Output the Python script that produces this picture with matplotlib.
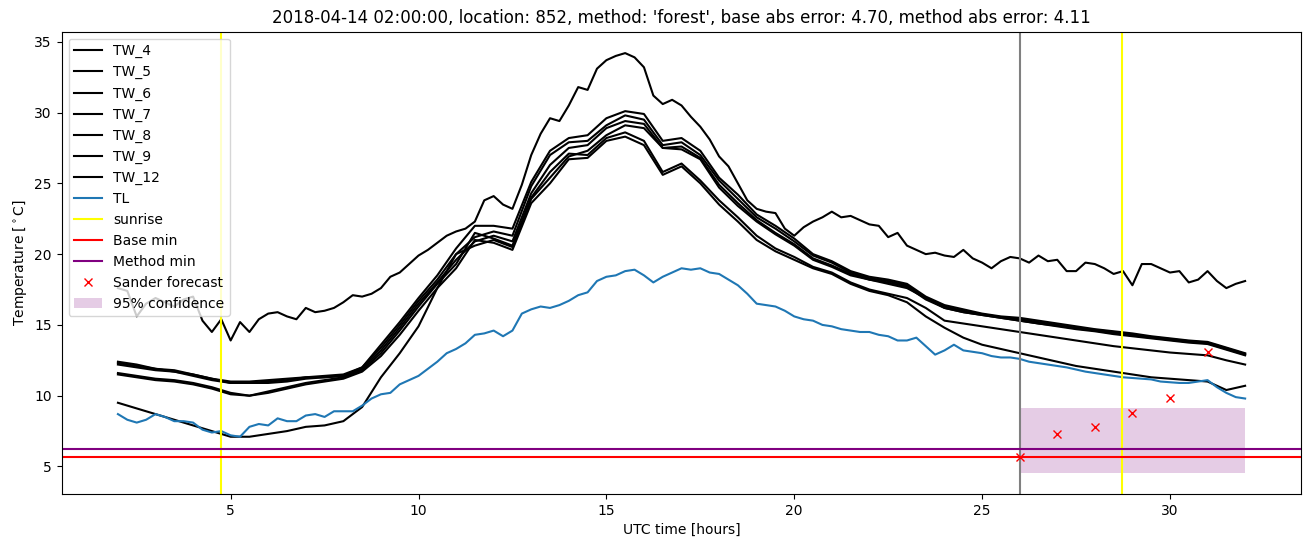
import numpy as np
import matplotlib.pyplot as plt

# Time grids (UTC hours)
hours = np.arange(2.0, 32.01, 0.5)
hours_fine = np.arange(2.0, 32.01, 0.25)

# Water temperatures, every half hour
tw_4 = [12.4, 12.2, 11.9, 11.8, 11.5, 11.2, 11.0, 11.0, 11.1, 11.2, 11.3, 11.4, 11.5, 12.0,
        13.6, 15.2, 16.9, 18.5, 20.4, 22.0, 22.0, 21.8, 25.1, 27.3, 28.2, 28.4, 29.6, 30.1,
        29.9, 28.0, 28.2, 27.3, 25.4, 24.2, 22.8, 22.0, 21.1, 20.0, 19.5, 18.8, 18.4, 18.2,
        17.9, 17.0, 16.4, 16.1, 15.8, 15.6, 15.5, 15.3, 15.1, 14.9, 14.7, 14.55, 14.4, 14.2,
        14.05, 13.9, 13.8, 13.4, 13.0]
tw_5 = [12.3, 12.1, 11.9, 11.7, 11.5, 11.2, 10.9, 10.9, 11.0, 11.1, 11.3, 11.3, 11.4, 12.0,
        13.4, 15.0, 16.7, 18.2, 20.0, 21.2, 21.6, 21.3, 24.8, 27.0, 27.9, 28.0, 29.1, 29.8,
        29.5, 27.7, 27.9, 27.0, 25.2, 23.9, 22.6, 21.8, 20.9, 19.9, 19.4, 18.7, 18.3, 18.1,
        17.8, 16.9, 16.3, 16.0, 15.75, 15.55, 15.4, 15.2, 15.0, 14.8, 14.65, 14.5, 14.3, 14.15,
        14.0, 13.85, 13.75, 13.35, 12.95]
tw_6 = [12.2, 12.0, 11.8, 11.7, 11.4, 11.1, 10.9, 10.9, 10.9, 11.0, 11.2, 11.3, 11.4, 11.9,
        13.2, 14.8, 16.5, 18.0, 19.6, 20.9, 21.3, 20.9, 24.3, 26.3, 27.5, 27.7, 28.9, 29.4,
        29.2, 27.5, 27.6, 26.8, 24.9, 23.6, 22.4, 21.5, 20.7, 19.7, 19.2, 18.6, 18.2, 18.0,
        17.7, 16.8, 16.2, 15.9, 15.7, 15.5, 15.3, 15.1, 14.95, 14.75, 14.6, 14.4, 14.25, 14.1,
        13.95, 13.8, 13.7, 13.3, 12.9]
tw_7 = [11.6, 11.4, 11.2, 11.1, 10.9, 10.6, 10.2, 10.0, 10.3, 10.6, 10.9, 11.1, 11.3, 11.8,
        13.0, 14.6, 16.3, 17.9, 19.3, 21.5, 21.1, 20.6, 24.0, 25.8, 27.1, 27.0, 28.2, 28.6,
        28.0, 25.8, 26.4, 25.2, 23.8, 22.6, 21.3, 20.4, 19.8, 19.1, 18.7, 18.0, 17.5, 17.2,
        16.9, 16.2, 15.3, 15.1, 14.9, 14.7, 14.5, 14.3, 14.1, 13.9, 13.7, 13.5, 13.35, 13.2,
        13.05, 12.95, 12.85, 12.5, 12.2]
tw_8 = [11.5, 11.3, 11.1, 11.0, 10.8, 10.5, 10.1, 10.0, 10.2, 10.5, 10.8, 11.0, 11.2, 11.7,
        12.8, 14.3, 16.0, 17.6, 19.0, 21.0, 20.8, 20.3, 23.6, 25.0, 26.7, 26.8, 28.0, 28.3,
        27.7, 25.6, 26.2, 25.0, 23.5, 22.3, 21.0, 20.2, 19.6, 19.0, 18.6, 17.9, 17.4, 17.1,
        16.6, 15.6, 14.8, 14.1, 13.6, 13.3, 13.0, 12.7, 12.4, 12.1, 11.9, 11.7, 11.5, 11.3,
        11.2, 11.1, 11.0, 10.4, 10.7]
tw_9 = [9.5, 9.1, 8.7, 8.3, 7.9, 7.5, 7.1, 7.1, 7.3, 7.5, 7.8, 7.9, 8.2, 9.2,
        11.3, 13.0, 14.9, 17.6, 20.0, 20.6, 21.0, 20.5, 23.9, 25.4, 26.9, 27.3, 28.4, 29.1,
        28.9, 27.5, 27.4, 26.7, 24.7, 23.4, 22.3, 21.4, 20.6, 19.6, 19.1, 18.5, 18.2, 17.9,
        17.6, 16.9, 16.2, 15.9, 15.7, 15.5, 15.3, 15.1, 14.9, 14.7, 14.55, 14.35, 14.2, 14.05,
        13.9, 13.75, 13.65, 13.25, 12.85]

# Noisier series, read every quarter hour
tw_12 = [17.6, 17.4, 15.6, 16.5, 16.9, 16.6, 16.3, 16.8, 17.0, 15.3, 14.5, 15.4,
         13.9, 15.2, 14.5, 15.4, 15.8, 15.9, 15.6, 15.4, 16.2, 15.9, 16.0, 16.2,
         16.6, 17.1, 17.0, 17.2, 17.6, 18.4, 18.7, 19.3, 19.9, 20.3, 20.8, 21.3,
         21.6, 21.8, 22.3, 23.8, 24.1, 23.5, 23.2, 24.9, 27.0, 28.5, 29.6, 29.4,
         30.5, 31.8, 31.6, 33.1, 33.7, 34.0, 34.2, 33.9, 33.2, 31.2, 30.6, 30.9,
         30.5, 29.7, 29.0, 28.1, 26.9, 26.2, 25.0, 23.8, 23.2, 23.0, 22.9, 21.8,
         21.3, 21.9, 22.3, 22.6, 23.0, 22.6, 22.7, 22.4, 22.1, 22.0, 21.2, 21.5,
         20.6, 20.3, 20.0, 20.1, 19.9, 19.8, 20.3, 19.7, 19.4, 19.0, 19.5, 19.8,
         19.7, 19.4, 19.9, 19.5, 19.6, 18.8, 18.8, 19.4, 19.3, 19.0, 18.6, 18.8,
         17.8, 19.3, 19.3, 19.0, 18.7, 18.8, 18.0, 18.2, 18.8, 18.1, 17.6, 17.9,
         18.1]
tl = [8.7, 8.3, 8.1, 8.3, 8.7, 8.5, 8.2, 8.2, 8.1, 7.6, 7.4, 7.5,
      7.2, 7.1, 7.8, 8.0, 7.9, 8.4, 8.2, 8.2, 8.6, 8.7, 8.5, 8.9,
      8.9, 8.9, 9.3, 9.8, 10.1, 10.2, 10.8, 11.1, 11.4, 11.9, 12.4, 13.0,
      13.3, 13.7, 14.3, 14.4, 14.6, 14.2, 14.6, 15.8, 16.1, 16.3, 16.2, 16.4,
      16.7, 17.1, 17.3, 18.1, 18.4, 18.5, 18.8, 18.9, 18.5, 18.0, 18.4, 18.7,
      19.0, 18.9, 19.0, 18.7, 18.6, 18.2, 17.8, 17.2, 16.5, 16.4, 16.3, 16.0,
      15.6, 15.4, 15.3, 15.0, 14.9, 14.7, 14.6, 14.5, 14.5, 14.3, 14.2, 13.9,
      13.9, 14.1, 13.5, 12.9, 13.2, 13.6, 13.2, 13.1, 13.0, 12.8, 12.7, 12.7,
      12.6, 12.4, 12.3, 12.2, 12.1, 12.0, 11.85, 11.7, 11.6, 11.5, 11.4, 11.3,
      11.25, 11.2, 11.15, 11.0, 10.95, 10.9, 10.9, 11.0, 11.1, 10.6, 10.2, 9.9,
      9.8]

sunrise = [4.73, 28.73]
forecast_start = 26.0
base_min = 5.65
method_min = 6.22
forecast_hours = [26, 27, 28, 29, 30, 31]
sander_forecast = [5.64, 7.29, 7.79, 8.79, 9.86, 13.07]
conf_hours = [26, 32]
conf_low = [4.57, 4.57]
conf_high = [9.14, 9.14]

tw_series = {'TW_4': tw_4, 'TW_5': tw_5, 'TW_6': tw_6, 'TW_7': tw_7,
             'TW_8': tw_8, 'TW_9': tw_9}

fig, ax = plt.subplots(figsize=(13.1, 5.47))
fig.subplots_adjust(left=0.047, right=0.9935, bottom=0.097, top=0.942)

for name, vals in tw_series.items():
    ax.plot(hours, vals, color='black', label=name)
ax.plot(hours_fine, tw_12, color='black', label='TW_12')
ax.plot(hours_fine, tl, label='TL')

ax.axvline(sunrise[0], color='yellow', label='sunrise')
ax.axvline(sunrise[1], color='yellow')
ax.axvline(forecast_start, color='grey')
ax.axhline(base_min, color='red', label='Base min')
ax.axhline(method_min, color='purple', label='Method min')
ax.plot(forecast_hours, sander_forecast, 'x', color='red', label='Sander forecast')
ax.fill_between(conf_hours, conf_low, conf_high, color='purple', alpha=0.2,
                linewidth=0, label='95% confidence')

ax.set_xlim(0.5, 33.5)
ax.set_ylim(3.06, 35.71)
ax.set_xlabel('UTC time [hours]')
ax.set_ylabel(r'Temperature [$^\circ$C]')
ax.set_title("2018-04-14 02:00:00, location: 852, method: 'forest', "
             "base abs error: 4.70, method abs error: 4.11")
ax.legend(loc='upper left')

fig.savefig('out.png', dpi=100)
